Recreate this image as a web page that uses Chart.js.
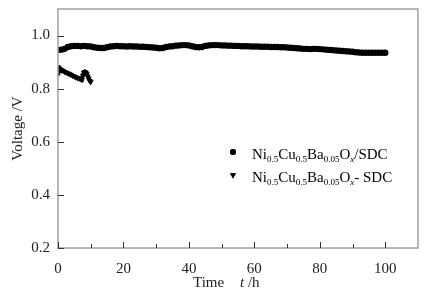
<!DOCTYPE html>
<html>
<head>
<meta charset="utf-8">
<script src="https://cdn.jsdelivr.net/npm/chart.js@4"></script>
<style>
  html, body { margin: 0; padding: 0; background: #fff; }
  #wrap { width: 426px; height: 295px; }
</style>
</head>
<body>
<div id="wrap"><canvas id="voltchart" width="426" height="295"></canvas></div>
<script>
// data
const time1 = [];
for (let i = 0; i <= 100; i++) time1.push(i);
const volt1 = [
  0.946, 0.947, 0.950, 0.957, 0.960, 0.961, 0.961, 0.960, 0.961, 0.960,
  0.959, 0.956, 0.954, 0.953, 0.953, 0.956, 0.959, 0.960, 0.961, 0.960,
  0.960, 0.959, 0.960, 0.959, 0.959, 0.958, 0.958, 0.957, 0.956, 0.955,
  0.954, 0.952, 0.953, 0.957, 0.959, 0.960, 0.962, 0.963, 0.964, 0.964,
  0.963, 0.960, 0.957, 0.956, 0.957, 0.961, 0.963, 0.964, 0.964, 0.964,
  0.963, 0.963, 0.962, 0.962, 0.961, 0.961, 0.960, 0.960, 0.960, 0.959,
  0.959, 0.959, 0.958, 0.958, 0.958, 0.957, 0.957, 0.957, 0.956, 0.956,
  0.955, 0.954, 0.953, 0.952, 0.951, 0.950, 0.950, 0.949, 0.950, 0.950,
  0.949, 0.948, 0.947, 0.946, 0.945, 0.944, 0.943, 0.942, 0.941, 0.940,
  0.939, 0.937, 0.936, 0.935, 0.935, 0.935, 0.935, 0.935, 0.935, 0.935,
  0.935
];
const time2 = [0, 0, 0, 0.2, 0.4, 0.6, 0.8, 1.0, 1.5, 2.0, 2.5, 3.0, 3.5, 4.0, 4.5,
  5.0, 5.5, 6.0, 6.5, 7.0, 7.3, 7.6, 7.9, 8.2, 8.5, 8.8, 9.1, 9.4, 9.7, 10.0];
const volt2 = [0.858, 0.870, 0.882, 0.878, 0.875, 0.873, 0.871, 0.870, 0.867, 0.864,
  0.861, 0.858, 0.855, 0.852, 0.849, 0.846, 0.843, 0.840, 0.838, 0.836,
  0.834, 0.850, 0.860, 0.864, 0.860, 0.855, 0.846, 0.838, 0.830, 0.825];

const xTicks = [0, 20, 40, 60, 80, 100];
const xMinor = [10, 30, 50, 70, 90];
const yTicks = [0.2, 0.4, 0.6, 0.8, 1.0];

// legend label pieces: [text, 0 normal / 1 subscript / 2 italic subscript]
const legend1 = [['Ni', 0], ['0.5', 1], ['Cu', 0], ['0.5', 1], ['Ba', 0], ['0.05', 1], ['O', 0], ['x', 2], ['/SDC', 0]];
const legend2 = [['Ni', 0], ['0.5', 1], ['Cu', 0], ['0.5', 1], ['Ba', 0], ['0.05', 1], ['O', 0], ['x', 2], ['- SDC', 0]];

const serif = '"Liberation Serif", "DejaVu Serif", serif';

function toXY(xs, ys) {
  return xs.map((x, i) => ({ x: x, y: ys[i] }));
}

function drawRich(ctx, parts, x, y) {
  parts.forEach(p => {
    if (p[1] === 0) {
      ctx.font = '15px ' + serif;
      ctx.fillText(p[0], x, y);
    } else {
      ctx.font = (p[1] === 2 ? 'italic ' : '') + '9px ' + serif;
      ctx.fillText(p[0], x, y + 3);
    }
    x += ctx.measureText(p[0]).width;
  });
}

const framePlugin = {
  id: 'frame',
  afterDraw(chart) {
    const ctx = chart.ctx;
    const a = chart.chartArea;
    const sx = chart.scales.x, sy = chart.scales.y;
    ctx.save();
    // frame
    ctx.strokeStyle = '#a0a0a0';
    ctx.lineWidth = 1.5;
    ctx.strokeRect(a.left, a.top, a.right - a.left, a.bottom - a.top);
    // inward ticks
    ctx.strokeStyle = '#333';
    ctx.lineWidth = 1;
    ctx.beginPath();
    xTicks.concat(xMinor).forEach(v => {
      const px = Math.round(sx.getPixelForValue(v)) + 0.5;
      const len = xTicks.includes(v) ? 6 : 4;
      ctx.moveTo(px, a.bottom);
      ctx.lineTo(px, a.bottom - len);
    });
    yTicks.forEach(v => {
      const py = Math.round(sy.getPixelForValue(v)) + 0.5;
      ctx.moveTo(a.left, py);
      ctx.lineTo(a.left + 6, py);
    });
    ctx.stroke();

    // legend
    ctx.fillStyle = '#000';
    ctx.textBaseline = 'alphabetic';
    const lx = 233;
    Chart.helpers.drawPoint(ctx, { pointStyle: 'circle', radius: 3, rotation: 0, borderWidth: 0 }, lx, 152);
    ctx.fill();
    Chart.helpers.drawPoint(ctx, { pointStyle: 'triangle', radius: 3.5, rotation: 180, borderWidth: 0 }, lx, 175);
    ctx.fill();
    drawRich(ctx, legend1, 252, 159);
    drawRich(ctx, legend2, 252, 182);

    // x axis title with italic t
    ctx.fillStyle = '#222';
    ctx.font = '15px ' + serif;
    ctx.fillText('Time', 193, 287);
    ctx.font = 'italic 15px ' + serif;
    ctx.fillText('t', 240, 287);
    const tw = ctx.measureText('t').width;
    ctx.font = '15px ' + serif;
    ctx.fillText(' /h', 240 + tw, 287);
    ctx.restore();
  }
};

new Chart(document.getElementById('voltchart'), {
  type: 'scatter',
  data: {
    datasets: [
      {
        label: 'Ni0.5Cu0.5Ba0.05Ox/SDC',
        data: toXY(time1, volt1),
        showLine: true,
        borderColor: '#000',
        borderWidth: 4,
        backgroundColor: '#000',
        pointStyle: 'circle',
        pointRadius: 3.2,
        pointBorderWidth: 0
      },
      {
        label: 'Ni0.5Cu0.5Ba0.05Ox- SDC',
        data: toXY(time2, volt2),
        showLine: true,
        borderColor: '#000',
        borderWidth: 4,
        backgroundColor: '#000',
        pointStyle: 'triangle',
        rotation: 180,
        pointRadius: 3.5,
        pointBorderWidth: 0
      }
    ]
  },
  options: {
    responsive: false,
    animation: false,
    layout: { padding: { top: 8, right: 8, left: 0, bottom: 0 } },
    plugins: {
      legend: { display: false },
      tooltip: { enabled: false }
    },
    scales: {
      x: {
        type: 'linear',
        min: 0,
        max: 110,
        grid: { display: false },
        border: { display: false },
        afterBuildTicks: s => { s.ticks = xTicks.map(v => ({ value: v })); },
        afterFit: s => { s.height = 47; },
        ticks: {
          color: '#222',
          padding: 4,
          maxRotation: 0,
          font: { family: serif, size: 15 }
        }
      },
      y: {
        type: 'linear',
        min: 0.2,
        max: 1.1,
        grid: { display: false },
        border: { display: false },
        afterBuildTicks: s => { s.ticks = yTicks.map(v => ({ value: v })); },
        afterFit: s => { s.width = 58; },
        ticks: {
          color: '#222',
          padding: 0,
          font: { family: serif, size: 15 },
          callback: v => v.toFixed(1)
        },
        title: {
          display: true,
          text: 'Voltage /V',
          color: '#222',
          padding: { top: 9, bottom: 0 },
          font: { family: serif, size: 15 }
        }
      }
    }
  },
  plugins: [framePlugin]
});
</script>
</body>
</html>
